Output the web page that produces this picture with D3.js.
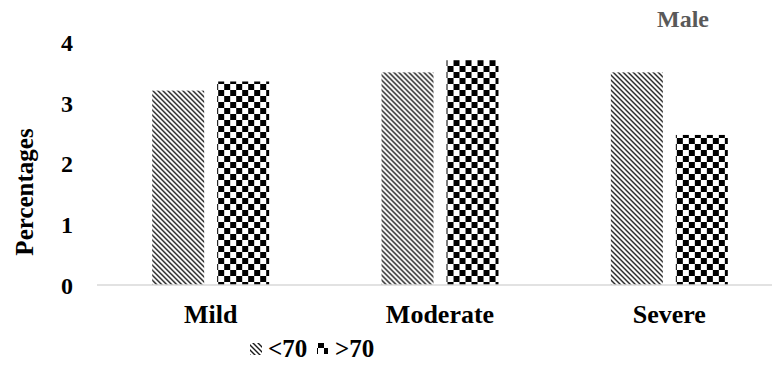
<!DOCTYPE html>
<head>
  <meta charset='utf-8'>
  <style>
    body { margin: 0; background: #fff; }
    text { font-family: 'Liberation Serif', 'Times New Roman', serif; font-weight: bold; }
    .tick text { font-size: 24px; fill: #000; }
    .cat-axis .tick text { font-size: 26px; }
  </style>
</head>
<body>
<script src='https://d3js.org/d3.v7.min.js'></script>
<script>
  var
    W = 772,
    H = 380,
    margin = {top: 42, right: -12, bottom: 93, left: 96};

  // data
  var categories = ['Mild', 'Moderate', 'Severe'];
  var seriesNames = ['<70', '>70'];
  var below70 = [3.2, 3.5, 3.5];
  var above70 = [3.35, 3.7, 2.47];
  var yTicks = [0, 1, 2, 3, 4];

  var rows = categories.map(function(c, i) {
    return {cat: c, values: [below70[i], above70[i]]};
  });

  var svg = d3.select('body').append('svg')
    .attr('width', W)
    .attr('height', H);

  var defs = svg.append('defs');

  // diagonal hatch for <70
  var hatch = defs.append('pattern')
    .attr('id', 'hatch')
    .attr('patternUnits', 'userSpaceOnUse')
    .attr('width', 5)
    .attr('height', 5);
  hatch.append('rect').attr('width', 5).attr('height', 5).attr('fill', '#fff');
  hatch.append('path')
    .attr('d', 'M0,0L5,5M-1,4L1,6M4,-1L6,1')
    .attr('stroke', '#1a1a1a')
    .attr('stroke-width', 1.4);

  // checkerboard for >70
  var checker = defs.append('pattern')
    .attr('id', 'checker')
    .attr('patternUnits', 'userSpaceOnUse')
    .attr('width', 12)
    .attr('height', 12);
  checker.append('rect').attr('width', 12).attr('height', 12).attr('fill', '#fff');
  checker.append('rect').attr('width', 6).attr('height', 6).attr('fill', '#000');
  checker.append('rect').attr('x', 6).attr('y', 6).attr('width', 6).attr('height', 6).attr('fill', '#000');

  var fills = ['url(#hatch)', 'url(#checker)'];

  var x0 = d3.scaleBand()
    .domain(categories)
    .range([margin.left, W - margin.right])
    .paddingInner(0.49)
    .paddingOuter(0.245);

  var x1 = d3.scaleBand()
    .domain(d3.range(2))
    .range([0, x0.bandwidth()])
    .paddingInner(0.2);

  var y = d3.scaleLinear()
    .domain([0, 4])
    .range([H - margin.bottom - 2, margin.top]);

  // y axis labels only
  var yAxis = svg.append('g')
    .attr('transform', 'translate(' + 73 + ',0)')
    .call(d3.axisLeft(y).tickValues(yTicks).tickFormat(d3.format('d')).tickSize(0).tickPadding(0));
  yAxis.select('.domain').remove();
  yAxis.selectAll('.tick text').attr('dy', '0.35em');

  // bars
  var groups = svg.append('g').selectAll('g')
    .data(rows)
    .enter().append('g')
    .attr('transform', function(d) { return 'translate(' + x0(d.cat) + ',0)'; });

  groups.selectAll('rect')
    .data(function(d) { return d.values; })
    .enter().append('rect')
    .attr('x', function(d, i) { return x1(i); })
    .attr('y', function(d) { return y(d); })
    .attr('width', x1.bandwidth())
    .attr('height', function(d) { return y(0) - y(d); })
    .attr('fill', function(d, i) { return fills[i]; });

  // baseline
  svg.append('line')
    .attr('x1', 97)
    .attr('x2', W)
    .attr('y1', y(0))
    .attr('y2', y(0))
    .attr('stroke', '#d9d9d9')
    .attr('stroke-width', 1.5);

  // category labels
  var xAxis = svg.append('g')
    .attr('class', 'cat-axis')
    .attr('transform', 'translate(0,' + (y(0) + 17) + ')')
    .call(d3.axisBottom(x0).tickSize(0).tickPadding(0));
  xAxis.select('.domain').remove();
  xAxis.selectAll('.tick text').attr('dy', '0.8em');

  // y title
  svg.append('text')
    .attr('transform', 'translate(33,192) rotate(-90)')
    .attr('text-anchor', 'middle')
    .style('font-size', '25px')
    .text('Percentages');

  // title
  svg.append('text')
    .attr('x', 683)
    .attr('y', 27)
    .attr('text-anchor', 'middle')
    .attr('fill', '#595959')
    .style('font-size', '24px')
    .text('Male');

  // legend
  var legend = svg.append('g');
  var legendPos = [{sx: 250, tx: 268, size: 12}, {sx: 317, tx: 335, size: 11}];
  seriesNames.forEach(function(name, i) {
    var p = legendPos[i];
    legend.append('rect')
      .attr('x', p.sx)
      .attr('y', 343)
      .attr('width', p.size)
      .attr('height', p.size)
      .attr('fill', fills[i]);
    legend.append('text')
      .attr('x', p.tx)
      .attr('y', 357)
      .style('font-size', '25px')
      .text(name);
  });
</script>
</body>
